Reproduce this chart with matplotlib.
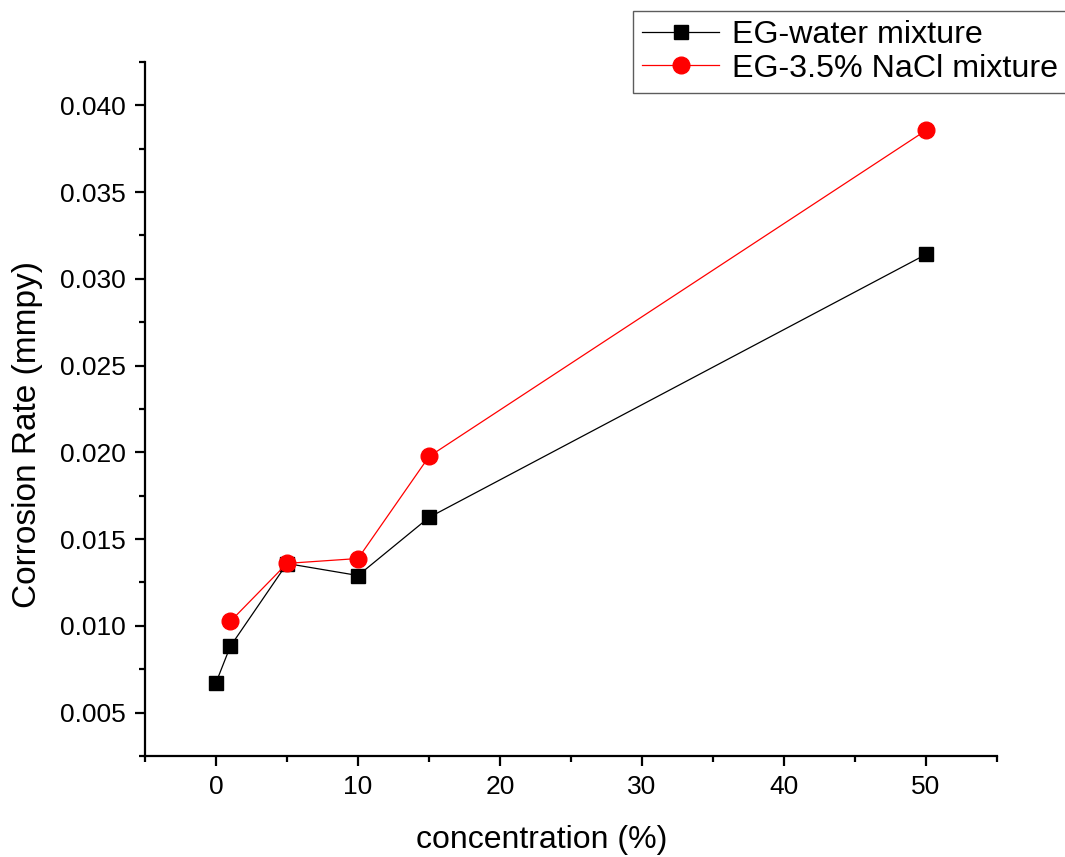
import matplotlib
matplotlib.use("Agg")
import matplotlib.pyplot as plt
from matplotlib.ticker import MultipleLocator, FormatStrFormatter

plt.rcParams['font.family'] = ['Liberation Sans', 'DejaVu Sans']

conc_water = [0, 1, 5, 10, 15, 50]
rate_water = [0.00673, 0.00881, 0.01359, 0.0129, 0.01625, 0.03141]
conc_nacl = [1, 5, 10, 15, 50]
rate_nacl = [0.01025, 0.0136, 0.01388, 0.01976, 0.03856]
labels = ["EG-water mixture", "EG-3.5% NaCl mixture"]

fig = plt.figure(figsize=(10.65, 8.57), dpi=100)
ax = fig.add_axes([0.1362, 0.1179, 0.8, 0.8098])

ax.plot(conc_water, rate_water, color='black', lw=0.9, marker='s', ms=10.5,
        label=labels[0])
ax.plot(conc_nacl, rate_nacl, color='red', lw=0.9, marker='o', ms=12,
        label=labels[1])

ax.set_xlim(-5, 55)
ax.set_ylim(0.0025, 0.0425)
ax.xaxis.set_major_locator(MultipleLocator(10))
ax.xaxis.set_minor_locator(MultipleLocator(5))
ax.yaxis.set_major_locator(MultipleLocator(0.005))
ax.yaxis.set_minor_locator(MultipleLocator(0.0025))
ax.yaxis.set_major_formatter(FormatStrFormatter('%.3f'))

for s in ['top', 'right']:
    ax.spines[s].set_visible(False)
for s in ['left', 'bottom']:
    ax.spines[s].set_linewidth(1.6)

ax.tick_params(which='major', direction='out', length=7, width=1.6,
               labelsize=19, pad=7)
ax.tick_params(which='minor', direction='out', length=4.5, width=1.6)

ax.set_xlabel("concentration (%)", fontsize=23, va='center')
ax.xaxis.set_label_coords((542 - 145) / 852, -(840 - 756) / 694)
ax.set_ylabel("Corrosion Rate (mmpy)", fontsize=24, va='center')
ax.yaxis.set_label_coords((27 - 145) / 852, (756 - 435) / 694)

leg = ax.legend(loc='upper left', bbox_to_anchor=(0.5727, 1.073),
                fontsize=23.2, frameon=True, fancybox=False, edgecolor='#333333',
                handlelength=2.4, borderpad=0.28, labelspacing=0.1,
                handletextpad=0.4, borderaxespad=0)
leg.get_frame().set_linewidth(1.0)

fig.savefig("out.png", dpi=100)
